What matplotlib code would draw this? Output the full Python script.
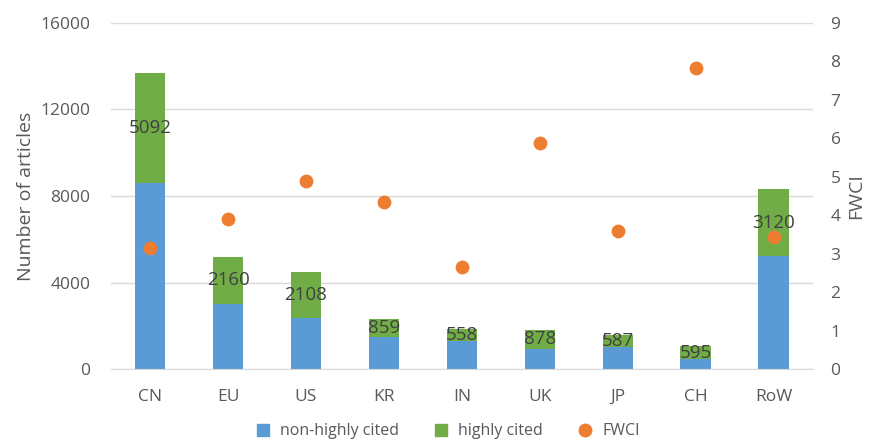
import matplotlib.pyplot as plt
from matplotlib.lines import Line2D

plt.rcParams['font.family'] = ['Open Sans', 'DejaVu Sans']

regions = ['CN', 'EU', 'US', 'KR', 'IN', 'UK', 'JP', 'CH', 'RoW']
non_highly = [8600, 3030, 2370, 1470, 1290, 950, 1000, 455, 5210]
highly = [5092, 2160, 2108, 859, 558, 878, 587, 595, 3120]
fwci = [3.16, 3.90, 4.89, 4.34, 2.66, 5.87, 3.58, 7.83, 3.44]

blue = '#5B9BD5'
green = '#70AD47'
orange = '#ED7D31'
grey = '#595959'

fig = plt.figure(figsize=(8.69, 4.41), dpi=100)
ax = fig.add_axes([0.128, 0.163, 0.807, 0.785])
x = range(len(regions))

ax.bar(x, non_highly, width=0.39, color=blue, zorder=2)
ax.bar(x, highly, width=0.39, bottom=non_highly, color=green, zorder=2)
for i, (b, h) in enumerate(zip(non_highly, highly)):
    ax.text(i, b + h / 2, str(h), ha='center', va='center', fontsize=13.5,
            color='#404040', zorder=4)

ax.set_ylim(0, 16000)
ax.set_yticks([0, 4000, 8000, 12000, 16000])
ax.set_xlim(-0.5, len(regions) - 0.5)
ax.set_xticks(list(x))
ax.set_xticklabels(regions)
ax.grid(axis='y', color='#d9d9d9', linewidth=1, zorder=0)
for s in ['top', 'left', 'right']:
    ax.spines[s].set_visible(False)
ax.spines['bottom'].set_color('#d9d9d9')
ax.tick_params(axis='both', length=0, labelsize=12.5, labelcolor=grey)
ax.tick_params(axis='x', pad=14)
ax.tick_params(axis='y', pad=15)
ax.set_ylabel('Number of articles', fontsize=14, color=grey, labelpad=4)

ax2 = ax.twinx()
ax2.scatter(x, fwci, s=80, color=orange, zorder=5)
ax2.set_ylim(0, 9)
ax2.set_yticks(range(10))
for s in ['top', 'left', 'right', 'bottom']:
    ax2.spines[s].set_visible(False)
ax2.tick_params(axis='y', length=0, labelsize=12.5, labelcolor=grey, pad=13)
ax2.set_ylabel('FWCI', fontsize=14, color=grey, labelpad=5)

handles = [
    Line2D([], [], marker='s', linestyle='none', color=blue, markersize=8),
    Line2D([], [], marker='s', linestyle='none', color=green, markersize=8),
    Line2D([], [], marker='o', linestyle='none', color=orange, markersize=9),
]
fig.legend(handles, ['non-highly cited', 'highly cited', 'FWCI'], loc='center',
           bbox_to_anchor=(0.51, 0.022), ncol=3, frameon=False, fontsize=11.5,
           labelcolor=grey, handletextpad=0.1, columnspacing=1.6)

fig.savefig('out.png', dpi=100)
